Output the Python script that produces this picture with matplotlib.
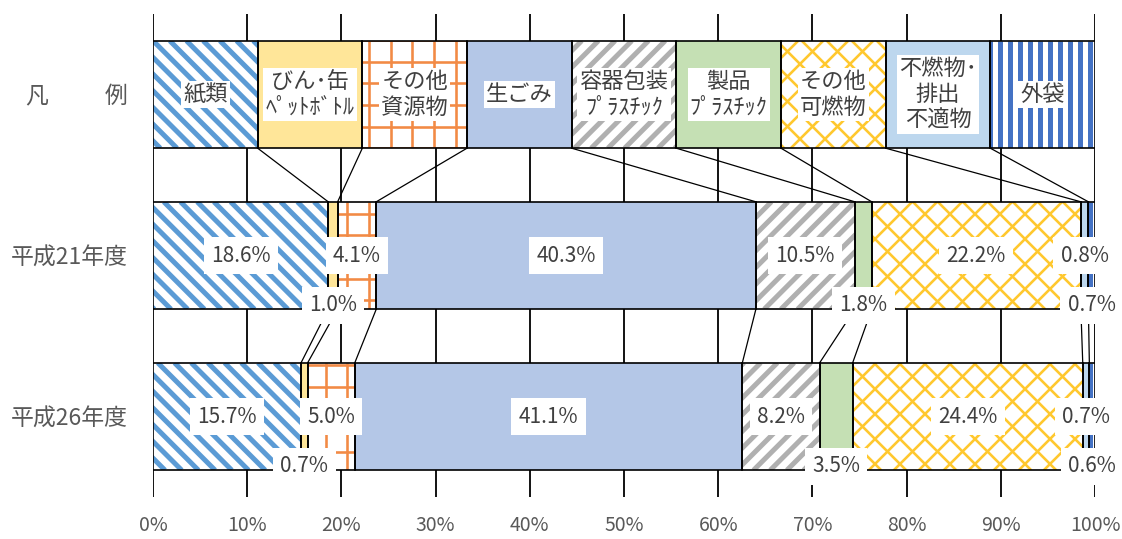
import numpy as np
import matplotlib.pyplot as plt
from matplotlib.collections import LineCollection
from matplotlib.transforms import IdentityTransform

plt.rcParams['font.family'] = ['Noto Sans CJK JP', 'DejaVu Sans']

# # data
row_labels = ['凡　　  例', '平成21年度', '平成26年度']
categories = ['紙類', 'びん･缶\nﾍﾟｯﾄﾎﾞﾄﾙ', 'その他\n資源物', '生ごみ',
              '容器包装\nﾌﾟﾗｽﾁｯｸ', '製品\nﾌﾟﾗｽﾁｯｸ', 'その他\n可燃物',
              '不燃物･\n排出\n不適物', '外袋']
legend_row = [1, 1, 1, 1, 1, 1, 1, 1, 1]   # equal boxes for the legend row
h21 = [18.6, 1.0, 4.1, 40.3, 10.5, 1.8, 22.2, 0.8, 0.7]
h26 = [15.7, 0.7, 5.0, 41.1, 8.2, 3.5, 24.4, 0.7, 0.6]
xticks = [0, 10, 20, 30, 40, 50, 60, 70, 80, 90, 100]

# # styles: face colour, pattern kind, pattern colour, spacing (px), line width (px)
styles = [
    ('white',   'down',    '#5B9BD5', 16.7, 5.0),
    ('#FFE699', None,      None,      0,    0),
    ('white',   'grid',    '#F28A45', 21.7, 2.6),
    ('#B4C7E7', None,      None,      0,    0),
    ('white',   'up',      '#B0B0B0', 16.7, 5.0),
    ('#C5E0B4', None,      None,      0,    0),
    ('white',   'diamond', '#FFC82E', 25.0, 2.6),
    ('#BDD7EE', None,      None,      0,    0),
    ('white',   'vert',    '#4472C4', 10.0, 5.0),
]
# labels moved below the bar (small segments)
moved_down = [1, 5, 8]

txt_col = '#404040'
H = 0.667

fig = plt.figure(figsize=(11.22, 5.39), dpi=100)
ax = fig.add_axes([153/1122, 1-497/539, (1095-153)/1122, (497-14)/539])
ax.set_xlim(0, 100)
ax.set_ylim(2.5, -0.5)


def pct(vals):
    v = np.asarray(vals, dtype=float)
    return v / v.sum() * 100


def pattern(patch, kind, color, s, lw):
    # excel-like fill pattern drawn in pixel space, clipped to the bar
    (x0, y0), (x1, y1) = patch.get_window_extent().get_points()
    segs = []
    if kind in ('vert', 'grid'):
        for x in np.arange(np.floor(x0/s)*s, x1+s, s):
            segs.append([(x, y0), (x, y1)])
    if kind == 'grid':
        for y in np.arange(np.floor(y0/s)*s, y1+s, s):
            segs.append([(x0, y), (x1, y)])
    if kind in ('down', 'diamond'):
        for c in np.arange(np.floor((x0+y0)/s)*s, x1+y1+s, s):
            segs.append([(c-y1, y1), (c-y0, y0)])
    if kind in ('up', 'diamond'):
        for c in np.arange(np.floor((x0-y1)/s)*s, x1-y0+s, s):
            segs.append([(c+y0, y0), (c+y1, y1)])
    lc = LineCollection(segs, colors=color, linewidths=lw*0.72,
                        transform=IdentityTransform(), zorder=2.5)
    ax.add_collection(lc, autolim=False)
    lc.set_clip_path(patch)


rows = [pct(legend_row), pct(h21), pct(h26)]

for r, vals in enumerate(rows):
    left = np.concatenate([[0], np.cumsum(vals)[:-1]])
    for i, (w, l) in enumerate(zip(vals, left)):
        face, kind, pcol, sp, plw = styles[i]
        b = ax.barh(r, w, left=l, height=H, color=face, linewidth=0, zorder=2)
        if kind:
            pattern(b.patches[0], kind, pcol, sp, plw)
        ax.barh(r, w, left=l, height=H, color='none', edgecolor='black',
                linewidth=1.2, zorder=3)

# # series lines
cums = [np.cumsum(v) for v in rows]
for r in range(2):
    for k in range(len(categories)):
        ax.plot([cums[r][k], cums[r+1][k]], [r + H/2, r + 1 - H/2],
                color='black', lw=0.9, zorder=3)

# # legend row text
legend_left = np.concatenate([[0], cums[0][:-1]])
for i, name in enumerate(categories):
    ax.text(legend_left[i] + rows[0][i]/2, 0, name, ha='center', va='center',
            fontsize=16, color=txt_col, linespacing=1.15, zorder=5,
            bbox=dict(boxstyle='square,pad=0.1', fc='white', ec='none'))

# # data labels
for r, raw in [(1, h21), (2, h26)]:
    vals = rows[r]
    left = np.concatenate([[0], cums[r][:-1]])
    for i, v in enumerate(raw):
        y = r + (0.31 if i in moved_down else 0)
        ax.text(left[i] + vals[i]/2, y, '{0:.1f}%'.format(v), ha='center',
                va='center', fontsize=15, color=txt_col, zorder=6, clip_on=False,
                bbox=dict(boxstyle='square,pad=0.35', fc='white', ec='none'))

ax.set_xticks(xticks)
ax.set_xticklabels(['{0}%'.format(t) for t in xticks], fontsize=14, color='#595959')
ax.set_yticks([0, 1, 2])
ax.set_yticklabels(row_labels, fontsize=16.5, color='#595959')
ax.tick_params(length=0, pad=13, axis='x')
ax.tick_params(length=0, pad=18, axis='y')
ax.xaxis.grid(True, color='black', lw=1.3)
ax.set_axisbelow(True)
for s in ax.spines.values():
    s.set_visible(False)

fig.savefig('out.png', dpi=100)
